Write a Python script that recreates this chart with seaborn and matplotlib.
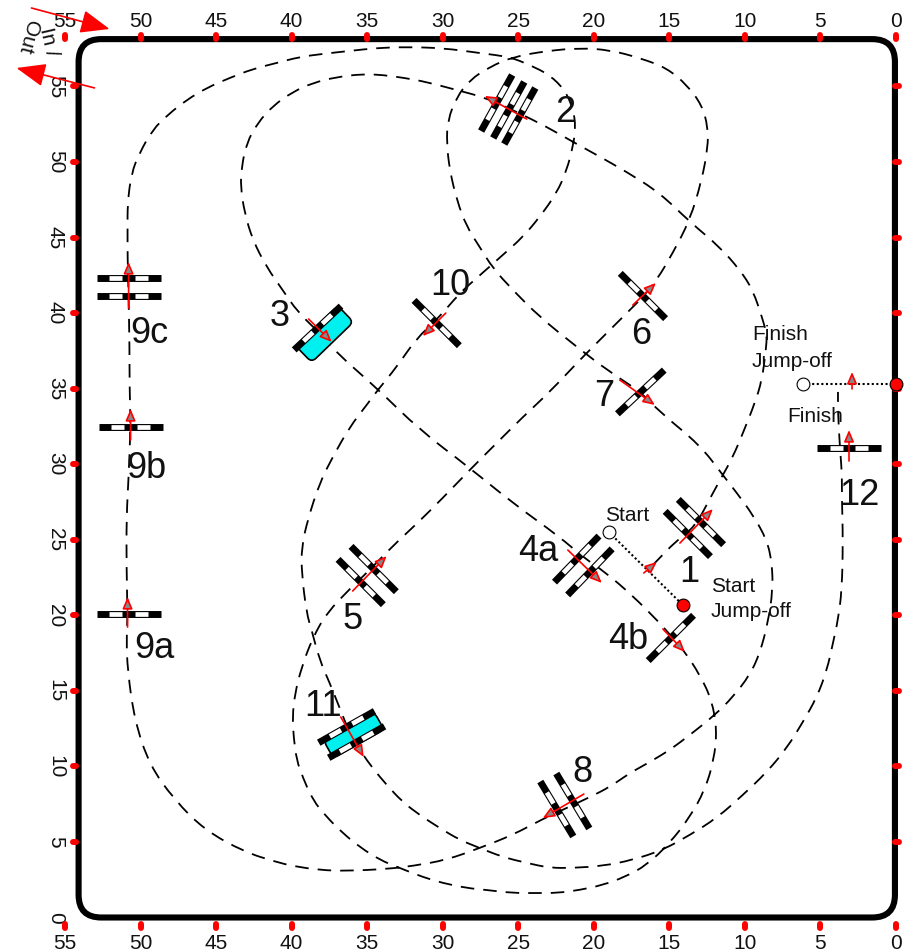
import matplotlib
matplotlib.use("Agg")
import numpy as np
import matplotlib.pyplot as plt
import seaborn as sns
from matplotlib.patches import FancyBboxPatch, PathPatch
from matplotlib.path import Path
from matplotlib.transforms import Affine2D

# ---- course route
route_x = [16.09,14.50,13.31,12.12,11.46,10.80,10.13,9.34,8.87,8.61,8.54,8.81,9.47,10.33,11.66,13.64,15.63,17.82,19.80,21.26,23.11,25.10,27.09,29.07,31.06,32.52,33.98,35.30,37.02,38.61,39.94,41.26,42.25,42.98,43.31,43.38,43.11,42.58,41.66,40.60,39.60,38.15,37.02,34.37,31.52,28.21,25.37,22.25,20.73,19.27,17.48,15.70,14.77,13.97,12.98,12.19,11.85,12.05,12.65,13.64,14.97,16.49,17.95,19.41,20.93,22.45,23.78,25.37,27.09,28.41,30.00,31.33,32.85,34.17,35.50,36.62,37.68,38.61,39.27,39.67,39.87,39.94,39.80,39.34,38.61,37.68,36.03,35.03,33.38,31.66,30.00,28.21,26.43,24.70,22.92,20.93,19.14,17.42,16.75,15.83,14.77,13.64,12.85,12.45,12.45,12.85,13.84,15.17,16.95,18.94,20.93,23.11,25.37,26.89,28.21,29.07,29.67,29.74,29.54,29.07,28.41,27.55,26.69,25.37,23.58,21.13,18.94,16.89,15.63,12.98,11.46,10.53,9.47,8.54,8.21,8.15,8.48,9.01,9.67,10.80,11.99,13.64,14.97,16.29,17.62,18.94,20.26,21.79,23.38,25.37,27.55,29.74,31.99,33.71,36.36,38.15,39.94,40.99,43.11,45.76,47.75,49.41,50.40,50.86,50.93,50.86,50.93,50.93,50.79,50.66,50.73,50.73,50.79,50.86,50.86,50.86,50.60,50.07,49.21,48.21,46.96,45.63,44.11,42.58,41.00,39.47,37.95,36.16,34.37,32.52,30.00,27.55,25.56,24.24,22.92,21.92,21.39,21.19,21.39,21.79,22.45,23.58,24.70,26.03,27.75,28.87,30.40,31.72,33.05,34.30,35.03,36.16,37.28,38.15,38.94,39.34,39.34,39.01,38.68,38.15,37.48,36.82,36.16,35.36,34.64,33.71,32.65,31.52,30.20,28.87,27.55,26.03,24.44,22.92,21.39,19.41,17.42,15.43,13.64,11.85,10.13,8.54,7.22,6.16,5.23,4.57,4.17,3.84,3.58,3.51,3.58,3.58,3.71,3.84,3.84]
route_y = [23.33,24.98,25.84,28.09,29.28,30.48,32.06,34.05,35.57,37.56,38.55,39.54,41.53,42.85,44.37,46.03,47.95,49.34,50.46,51.26,52.32,53.31,54.23,54.76,55.29,55.56,55.76,55.82,55.62,55.23,54.63,53.70,52.58,51.26,49.67,48.34,46.62,44.84,43.05,41.53,40.07,38.68,37.36,35.04,32.26,29.75,27.43,25.18,23.86,22.87,21.34,19.56,18.50,17.57,16.05,14.39,12.41,10.42,8.44,6.65,4.93,3.47,2.68,2.15,1.82,1.62,1.62,1.62,1.82,1.95,2.28,2.68,3.28,3.81,4.67,5.59,6.65,7.78,9.30,10.42,11.95,13.27,14.73,16.58,18.50,20.15,21.87,22.80,24.52,26.11,27.76,29.62,31.40,33.12,34.78,36.90,38.68,40.40,41.07,42.19,43.98,46.16,48.81,50.99,52.32,53.77,55.10,56.22,56.88,57.41,57.54,57.35,56.95,56.29,55.43,54.30,52.78,51.26,49.47,47.48,45.70,44.37,42.98,41.53,39.74,37.76,36.10,34.78,33.45,31.27,29.28,28.09,26.64,24.98,23.46,21.67,19.49,17.50,16.05,14.59,13.40,12.08,11.09,10.29,9.56,8.64,7.97,7.25,6.52,5.46,4.60,3.81,3.41,3.21,3.08,3.14,3.41,3.67,4.33,5.79,7.78,10.09,13.07,16.38,18.37,20.02,23.20,26.50,29.15,32.46,35.37,37.76,41.07,43.71,45.50,47.29,49.27,50.59,52.12,53.11,54.10,54.90,55.56,56.15,56.55,56.95,57.15,57.35,57.54,57.61,57.54,57.21,56.95,56.42,55.76,54.76,53.57,52.32,50.99,49.47,47.95,46.36,45.03,43.84,42.32,41.33,39.54,38.35,36.43,34.91,33.92,32.46,30.48,28.76,26.31,24.52,22.80,20.15,19.03,17.04,15.52,13.86,12.21,10.89,9.89,8.77,7.64,6.78,5.92,5.13,4.60,4.00,3.61,3.28,3.28,3.41,3.81,4.47,5.46,6.59,8.11,9.63,11.22,12.94,14.59,16.38,18.17,19.69,21.67,24.98,27.63,29.42,31.07,33.38,34.78]

# ---- obstacles: rail centres and the rail direction (degrees on the plan)
rail_x = [13.78,12.91,26.43,25.63,24.90,38.28,21.13,20.26,14.90,35.43,34.57,16.75,16.89,21.39,22.45,50.79,50.66,50.79,50.79,30.40,36.36,35.70,3.11]
rail_y = [25.38,26.17,53.90,53.44,53.04,39.01,23.72,22.87,18.50,22.20,23.06,41.13,34.78,7.71,7.18,20.09,32.46,42.32,41.13,39.34,12.61,11.61,31.07]
rail_angle = [-45,-45,61,61,61,43,46,46,45,-45,-45,-45,43,-59,-59,0,0,0,0,-45,29.4,29.4,0]

water_x = [37.81,35.89]
water_y = [38.61,12.08]
water_angle = [44,29.4]
water_width = [1.5,1.35]

# ---- direction arrows (tail -> tip)
arrow_tail_x = [14.30,16.69,24.44,38.88,21.72,15.43,35.96,17.42,18.28,20.66,50.86,50.66,50.79,29.80,36.75,3.11,2.91]
arrow_tail_y = [24.78,22.80,52.84,39.61,24.32,19.09,21.61,40.53,35.57,8.17,19.22,31.60,40.33,40.00,13.27,30.21,34.98]
arrow_tip_x = [12.12,15.83,27.22,37.35,19.47,13.97,33.71,15.89,15.96,23.38,50.86,50.66,50.79,31.32,35.23,3.11,2.91]
arrow_tip_y = [27.03,23.53,54.37,38.09,22.14,17.57,23.92,41.99,33.92,6.58,21.21,33.65,43.38,38.48,10.62,32.26,36.10]

# ---- labels
number_text = ["1","2","3","4a","4b","5","6","7","8","9a","9b","9c","10","11","12"]
number_x = [13.71,21.92,40.79,23.71,17.75,35.96,16.89,19.34,20.73,49.07,49.60,49.41,29.47,37.95,2.45]
number_y = [22.82,53.26,39.76,24.21,18.38,19.71,38.57,34.47,9.58,17.79,29.70,38.63,41.81,13.95,27.91]

note_text = ["Start","Jump-off","Finish","Jump-off","Finish"]
note_x = [12.25,12.25,9.54,9.54,7.22]
note_y = [21.90,20.25,38.58,36.80,33.16]

start_x = [19.01,14.11]
start_y = [25.51,20.68]
finish_x = [6.16,0.00]
finish_y = [35.31,35.31]

x_ticks = list(range(0,56,5))
y_ticks = list(range(0,56,5))

# ---- figure
sns.set_theme(style="white")
plt.rcParams["font.family"] = ["Liberation Sans", "DejaVu Sans"]
fig = plt.figure(figsize=(9.06, 9.51), dpi=100)
ax = fig.add_axes([65/906, (951-917.5)/951, (896-65)/906, (917.5-37)/951])

pts = np.column_stack([route_x, route_y])
mids = (pts[:-1] + pts[1:]) / 2
verts = [pts[0], mids[0]]
codes = [Path.MOVETO, Path.LINETO]
for i in range(1, len(pts) - 1):
    verts += [pts[i], mids[i]]
    codes += [Path.CURVE3, Path.CURVE3]
verts.append(pts[-1])
codes.append(Path.LINETO)
ax.add_patch(PathPatch(Path(verts, codes), fc="none", ec="black", lw=1.3,
                       linestyle=(0, (7.5, 5)), capstyle="butt", zorder=2))

for xs, ys in ((start_x, start_y), (finish_x, finish_y)):
    sns.lineplot(x=xs, y=ys, sort=False, estimator=None, color="black", lw=1.5,
                 linestyle=(0, (1, 1.2)), ax=ax, zorder=2)
ax.lines[-1].set_clip_on(False)

ax.set_xlim(55, 0)
ax.set_ylim(0, 58.27)
ax.set_xlabel("")
ax.set_ylabel("")
for s in ax.spines.values():
    s.set_visible(False)

# arena
ax.add_patch(FancyBboxPatch((0.07, 0), 54.03, 58.13, boxstyle="round,pad=0,rounding_size=1.5",
                            fc="none", ec="black", lw=4.4, clip_on=False, zorder=3))

# tick labels
ax.set_xticks(x_ticks)
ax.set_yticks(y_ticks)
ax.tick_params(axis="x", length=0, labelsize=15, top=False, bottom=False,
               labeltop=True, labelbottom=True, pad=4.5, colors="#111111")
ax.tick_params(axis="y", length=0, labelsize=15, left=False, right=False,
               labelleft=True, labelright=True, labelrotation=-90, pad=0, colors="#111111")
for t in ax.xaxis.get_major_ticks():
    t.label1.set_y(-0.0115)
for t in ax.yaxis.get_major_ticks():
    t.label1.set_va("center")
    t.label2.set_va("center")
    t.label2.set_x(1.0095)

# red tick marks
blob = dict(color="red", lw=4.3, solid_capstyle="round", clip_on=False, zorder=5)
half = 0.13
for v in x_ticks:
    ax.plot([v, v], [58.27-half, 58.27+half], **blob)
    ax.plot([v, v], [-0.56-half, -0.56+half], **blob)
for v in y_ticks[1:]:
    ax.plot([54.37-half, 54.37+half], [v, v], **blob)
    ax.plot([-0.07-half, -0.07+half], [v, v], **blob)

# water trays
WL = 3.85
for x, y, a, w in zip(water_x, water_y, water_angle, water_width):
    tr = Affine2D().rotate_deg_around(x, y, -a) + ax.transData
    ax.add_patch(FancyBboxPatch((x-WL/2, y-w/2), WL, w, boxstyle="round,pad=0,rounding_size=0.4",
                                fc="#00f0f0", ec="black", lw=1.2, transform=tr, zorder=3))

# rails: black / white / black / white / black
RL = 4.24
stops_white = [(-0.30, -0.10), (0.10, 0.30)]
for x, y, a in zip(rail_x, rail_y, rail_angle):
    dx, dy = -np.cos(np.radians(a)) * RL, np.sin(np.radians(a)) * RL
    ax.plot([x-dx/2, x+dx/2], [y-dy/2, y+dy/2], color="black", lw=5.0,
            solid_capstyle="butt", zorder=4)
    for f0, f1 in stops_white:
        ax.plot([x+f0*dx, x+f1*dx], [y+f0*dy, y+f1*dy], color="white", lw=3.4,
                solid_capstyle="butt", zorder=4.1)

# direction arrows
for x0, y0, x1, y1 in zip(arrow_tail_x, arrow_tail_y, arrow_tip_x, arrow_tip_y):
    ax.annotate("", xy=(x1, y1), xytext=(x0, y0), annotation_clip=False, zorder=6,
                arrowprops=dict(arrowstyle="-|>,head_length=0.7,head_width=0.3", mutation_scale=10,
                                ec="red", fc="#888888", lw=1.2, shrinkA=0, shrinkB=0))

# in / out arrows
for (x0, y0), (x1, y1) in (((57.22, 60.19), (52.05, 58.80)), ((53.05, 54.90), (58.21, 56.22))):
    ax.annotate("", xy=(x1, y1), xytext=(x0, y0), annotation_clip=False, zorder=6,
                arrowprops=dict(arrowstyle="-|>,head_length=0.9,head_width=0.36", mutation_scale=20,
                                ec="red", fc="red", lw=1.2, shrinkA=0, shrinkB=0))
ax.text(56.09, 57.94, "In /", rotation=-77, fontsize=15, ha="center", va="center", color="#111111", clip_on=False)
ax.text(57.48, 58.27, "Out", rotation=-105, fontsize=15, ha="center", va="center", color="#111111", clip_on=False)

# start / finish points
sns.scatterplot(x=[start_x[0], finish_x[0]], y=[start_y[0], finish_y[0]], s=85, color="white",
                edgecolor="black", linewidth=0.8, ax=ax, zorder=6, clip_on=False)
sns.scatterplot(x=[start_x[1], finish_x[1]], y=[start_y[1], finish_y[1]], s=85, color="red",
                edgecolor="black", linewidth=0.8, ax=ax, zorder=6, clip_on=False)

# labels
for t, x, y in zip(number_text, number_x, number_y):
    ax.text(x, y, t, fontsize=26, ha="center", va="center", color="#111111", zorder=7)
for t, x, y in zip(note_text, note_x, note_y):
    ax.text(x, y, t, fontsize=15, ha="left", va="center", color="#111111", zorder=7)
ax.text(17.81, 26.60, "Start", fontsize=15, ha="center", va="center", color="#111111", zorder=7)

ax.set_xlim(55, 0)
ax.set_ylim(0, 58.27)
fig.savefig("out.png", dpi=100)
